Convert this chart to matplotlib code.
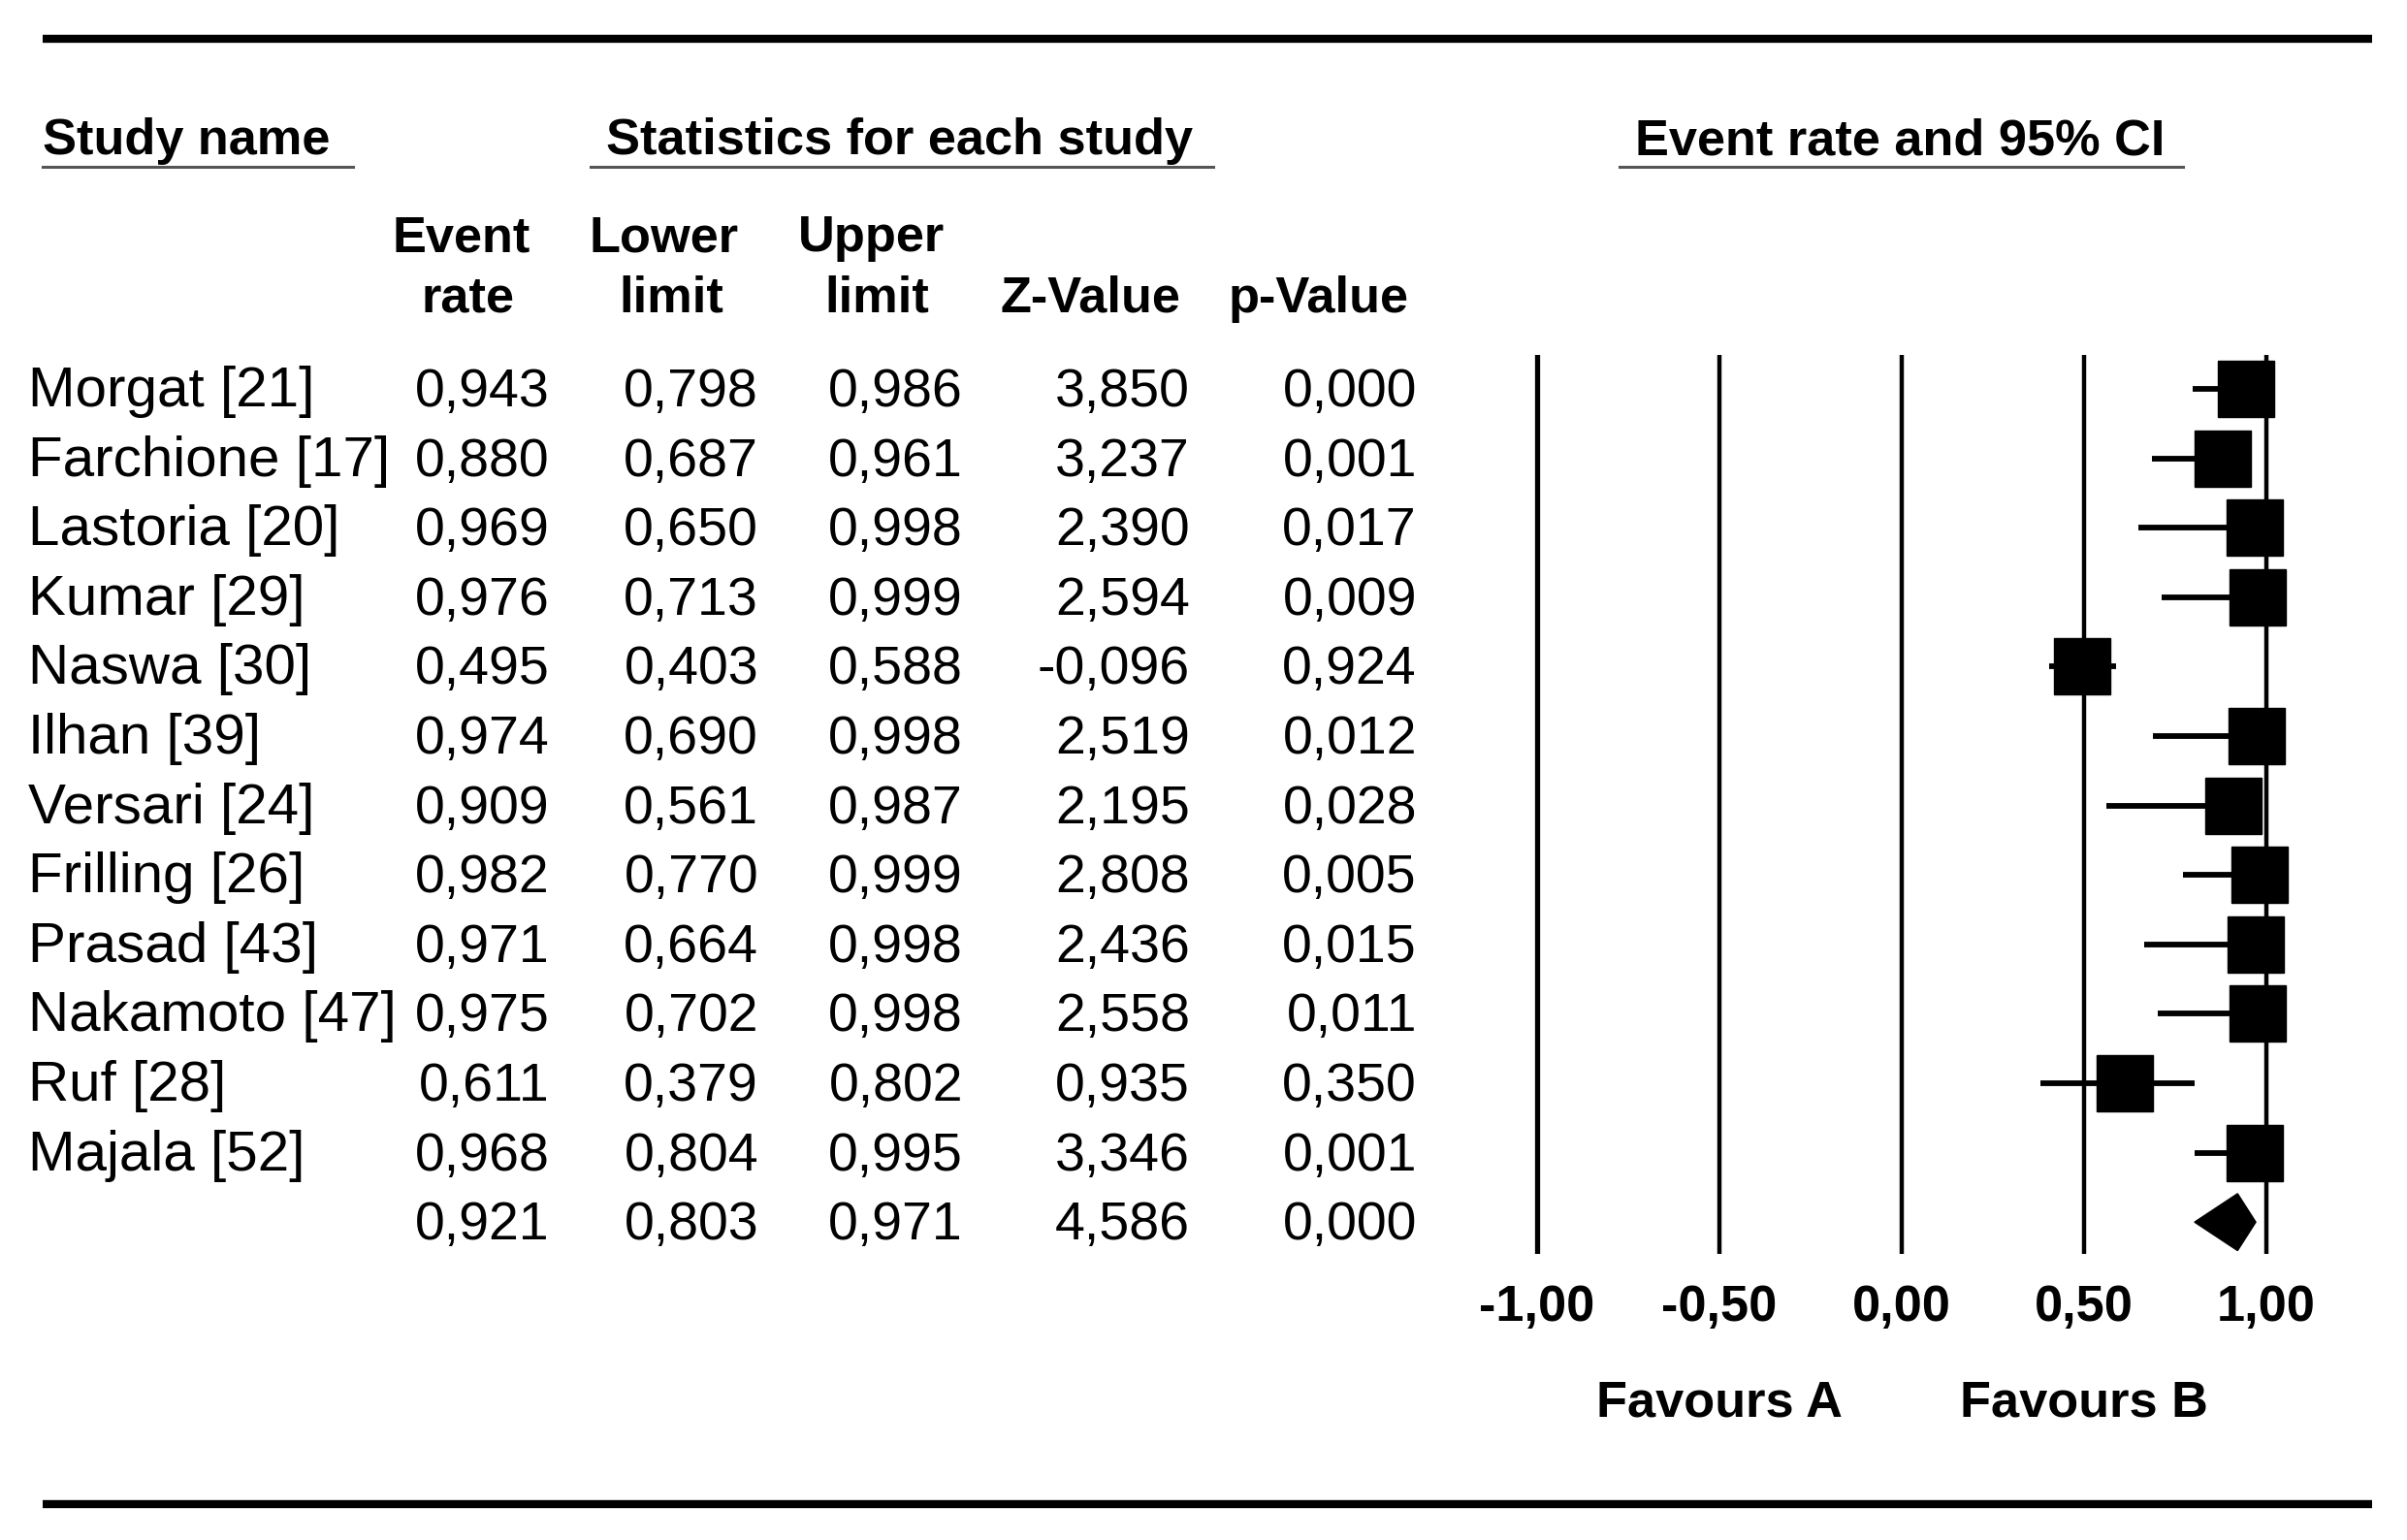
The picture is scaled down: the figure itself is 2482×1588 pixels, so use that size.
import numpy as np
import matplotlib
matplotlib.use("Agg")
import matplotlib.pyplot as plt

plt.rcParams['font.family'] = ['Liberation Sans', 'DejaVu Sans']

# data
studies = ["Morgat [21]", "Farchione [17]", "Lastoria [20]", "Kumar [29]", "Naswa [30]",
           "Ilhan [39]", "Versari [24]", "Frilling [26]", "Prasad [43]", "Nakamoto [47]",
           "Ruf [28]", "Majala [52]"]
event_rate = [0.943, 0.880, 0.969, 0.976, 0.495, 0.974, 0.909, 0.982, 0.971, 0.975, 0.611, 0.968]
lower = [0.798, 0.687, 0.650, 0.713, 0.403, 0.690, 0.561, 0.770, 0.664, 0.702, 0.379, 0.804]
upper = [0.986, 0.961, 0.998, 0.999, 0.588, 0.998, 0.987, 0.999, 0.998, 0.998, 0.802, 0.995]
z_value = [3.850, 3.237, 2.390, 2.594, -0.096, 2.519, 2.195, 2.808, 2.436, 2.558, 0.935, 3.346]
p_value = [0.000, 0.001, 0.017, 0.009, 0.924, 0.012, 0.028, 0.005, 0.015, 0.011, 0.350, 0.001]

# pooled result
sum_er, sum_lo, sum_hi, sum_z, sum_p = 0.921, 0.803, 0.971, 4.586, 0.000

ticks = [-1.0, -0.5, 0.0, 0.5, 1.0]

W, H = 2482, 1588
fig = plt.figure(figsize=(W / 100, H / 100), dpi=100)

# rows: pixel centre of row 0 and row spacing
y0, dy = 401, 71.6
def row(px):
    return (px - y0) / dy

fs_name = 42
fs_num = 40
fsb = 37.7

def fmt(v):
    return f"{v:.3f}".replace('.', ',')

# table part in pixel coordinates
tab = fig.add_axes([0, 0, 1, 1])
tab.set_xlim(0, W)
tab.set_ylim(H, 0)
tab.axis('off')

# top and bottom rules
tab.plot([44, 2446], [40, 40], color='black', lw=6, solid_capstyle='butt')
tab.plot([44, 2446], [1551, 1551], color='black', lw=6, solid_capstyle='butt')

# group headers with underline
tab.text(44, 159, "Study name", fontsize=fsb, fontweight='bold', va='baseline')
tab.plot([44, 364], [172, 172], color='#555555', lw=2.2)
tab.text(625, 159, "Statistics for each study", fontsize=fsb, fontweight='bold', va='baseline')
tab.plot([609, 1251], [172, 172], color='#555555', lw=2.2)
tab.text(1686, 159, "Event rate and 95% CI", fontsize=fsb, fontweight='bold', va='baseline')
tab.plot([1670, 2251], [172, 172], color='#555555', lw=2.2)

# column headers
col_right = [567, 782, 993, 1227, 1461]
tab.text(476, 259, "Event", fontsize=fsb, fontweight='bold', ha='center', va='baseline')
tab.text(483, 322, "rate", fontsize=fsb, fontweight='bold', ha='center', va='baseline')
tab.text(685, 259, "Lower", fontsize=fsb, fontweight='bold', ha='center', va='baseline')
tab.text(692, 322, "limit", fontsize=fsb, fontweight='bold', ha='center', va='baseline')
tab.text(898, 259, "Upper", fontsize=fsb, fontweight='bold', ha='center', va='baseline')
tab.text(904, 322, "limit", fontsize=fsb, fontweight='bold', ha='center', va='baseline')
tab.text(1124, 322, "Z-Value", fontsize=fsb, fontweight='bold', ha='center', va='baseline')
tab.text(1360, 322, "p-Value", fontsize=fsb, fontweight='bold', ha='center', va='baseline')

base_off = 18
for i in range(len(studies)):
    yb = y0 + dy * i + base_off
    tab.text(29, yb, studies[i], fontsize=fs_name, va='baseline')
    vals = [event_rate[i], lower[i], upper[i], z_value[i], p_value[i]]
    for xr, v in zip(col_right, vals):
        tab.text(xr, yb, fmt(v), fontsize=fs_num, ha='right', va='baseline')

yb = y0 + dy * len(studies) + base_off
for xr, v in zip(col_right, [sum_er, sum_lo, sum_hi, sum_z, sum_p]):
    tab.text(xr, yb, fmt(v), fontsize=fs_num, ha='right', va='baseline')

# forest plot axes
left_px, right_px = 1540, 2440
top_px, bot_px = 366, 1293
xm1, xp1 = 1585, 2337
ppu = (xp1 - xm1) / 2.0
ax = fig.add_axes([left_px / W, 1 - bot_px / H, (right_px - left_px) / W, (bot_px - top_px) / H])
ax.set_xlim(-1 - (xm1 - left_px) / ppu, 1 + (right_px - xp1) / ppu)
ax.set_ylim(row(bot_px), row(top_px))
ax.patch.set_visible(False)
for s in ax.spines.values():
    s.set_visible(False)

for t in ticks:
    ax.axvline(t, color='black', lw=3.8 if t == -1 else 3.2, zorder=1)

rows = np.arange(len(studies))
ax.hlines(rows, lower, upper, color='black', lw=4.2, zorder=2)
ax.plot(event_rate, rows, 's', color='black', markersize=42, zorder=3)

# pooled diamond
n = len(studies)
h = 0.41
ax.fill([sum_lo, sum_er, sum_hi, sum_er], [n, n - h, n, n + h], color='black', zorder=3)

ax.set_xticks(ticks)
ax.set_xticklabels([f"{t:.2f}".replace('.', ',') for t in ticks], fontsize=fsb, fontweight='bold')
ax.tick_params(axis='x', length=0, pad=22)
ax.set_yticks([])

ax.text(-0.5, row(1460), "Favours A", fontsize=fsb, fontweight='bold', ha='center', va='baseline', clip_on=False)
ax.text(0.5, row(1460), "Favours B", fontsize=fsb, fontweight='bold', ha='center', va='baseline', clip_on=False)

fig.savefig("out.png", dpi=100)
